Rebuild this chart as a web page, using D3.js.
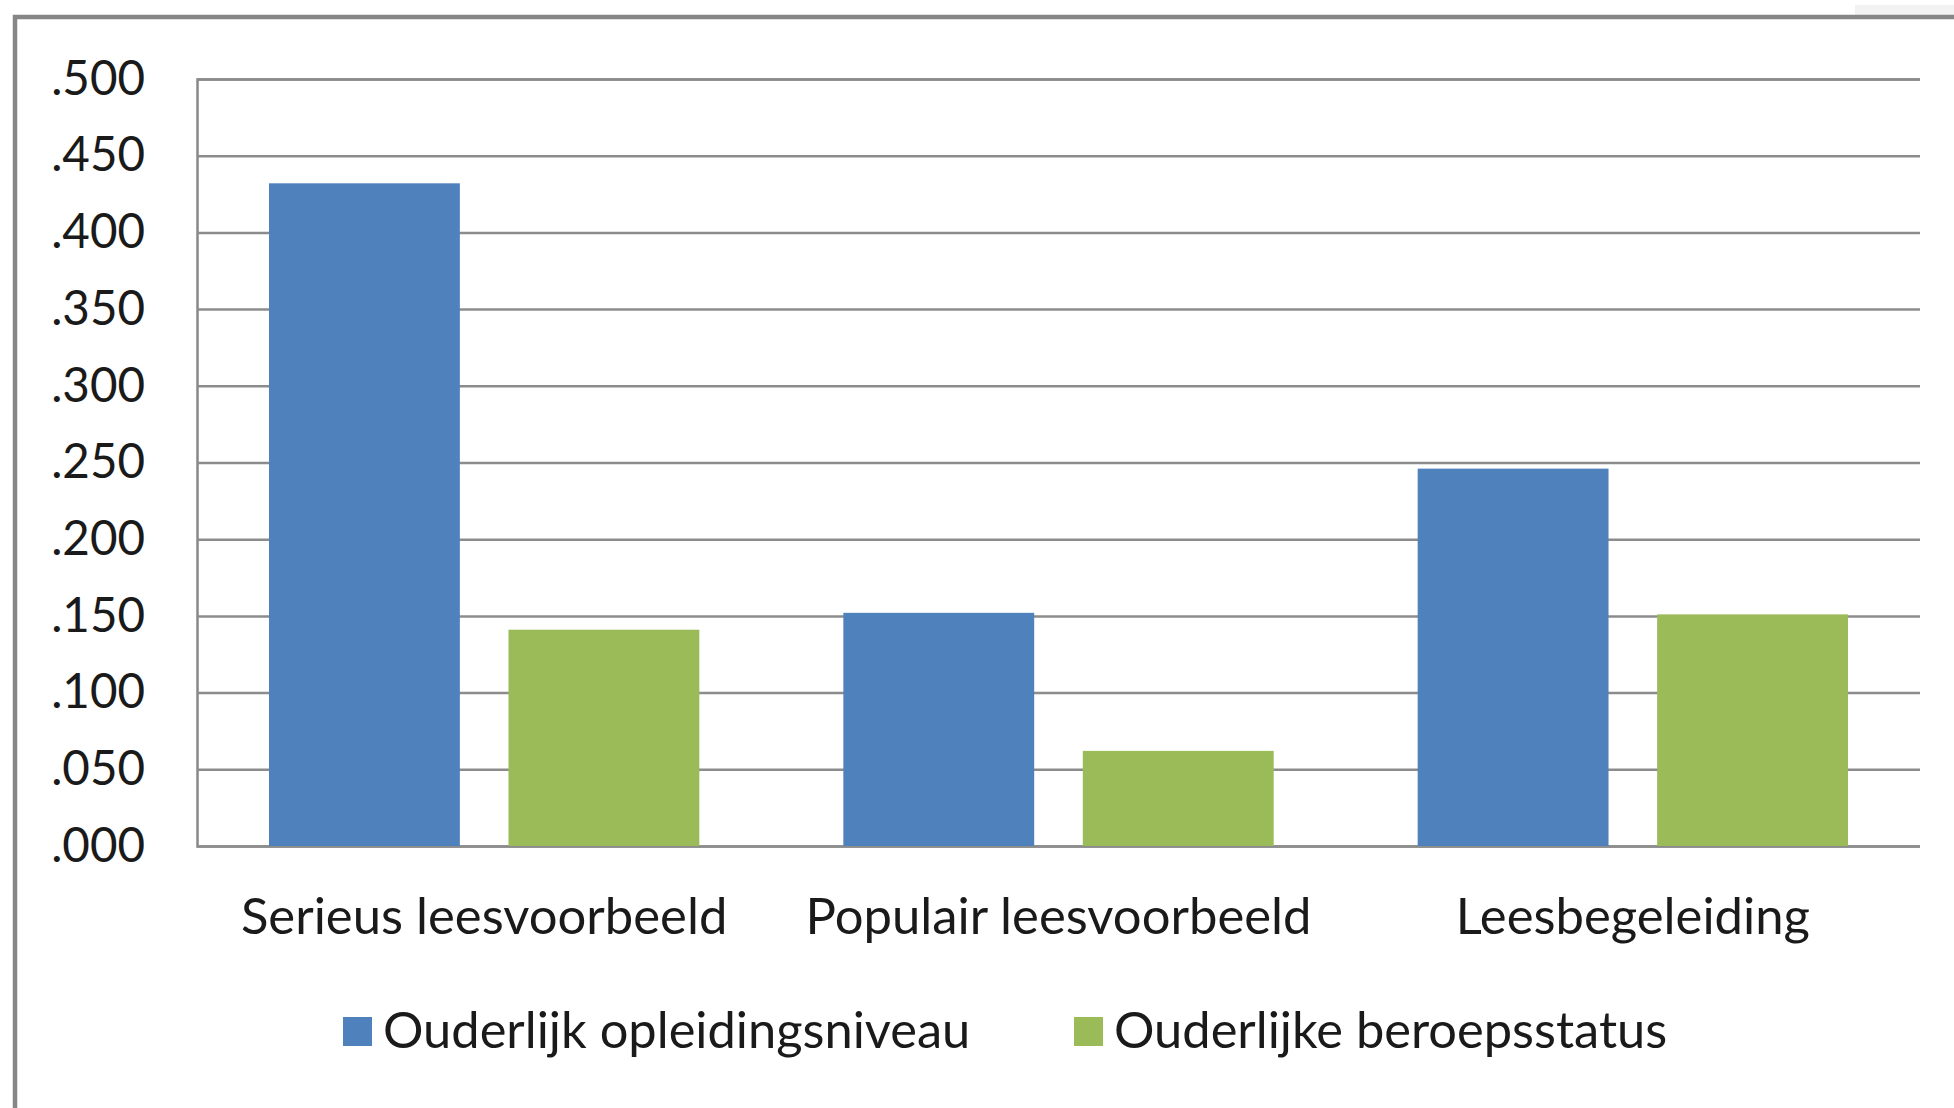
<!DOCTYPE html>
<html lang="nl">
<head>
<meta charset="UTF-8">
<title>Leesvoorbeeld en ouderlijke achtergrond</title>
<script src="https://d3js.org/d3.v7.min.js"></script>
<style>
    body { margin: 0; background: #fff; }
    svg { display: block; }
    text { font-family: Lato, "Open Sans", sans-serif; fill: #1a1a1a; }
</style>
</head>
<body>
<svg width="1954" height="1108"></svg>
<script>
const categories = ["Serieus leesvoorbeeld", "Populair leesvoorbeeld", "Leesbegeleiding"];
const seriesNames = ["Ouderlijk opleidingsniveau", "Ouderlijke beroepsstatus"];
const opleiding = [0.432, 0.152, 0.246];
const beroep = [0.141, 0.062, 0.151];
const yTicks = [0, 0.05, 0.1, 0.15, 0.2, 0.25, 0.3, 0.35, 0.4, 0.45, 0.5];
const colors = ["#4f81bd", "#9bbb59"];

const svg = d3.select("svg");
const plot = { left: 197, right: 1920, top: 79, bottom: 846 };

// frame (cut off on the right and bottom like the screenshot)
svg.append("rect").attr("x", 1855).attr("y", 5).attr("width", 99).attr("height", 10).attr("fill", "#f2f2f2");
svg.append("path")
    .attr("d", `M15,1108 V17 H1954`)
    .attr("fill", "none").attr("stroke", "#868686").attr("stroke-width", 4.5);

const x0 = d3.scaleBand().domain(categories).range([plot.left, plot.right]).padding(0);
const inset = 72;
const x1 = d3.scaleBand().domain(seriesNames)
    .range([inset, x0.bandwidth() - inset]).paddingInner(0.203).paddingOuter(0);
const y = d3.scaleLinear().domain([0, 0.5]).range([plot.bottom, plot.top]);

// gridlines + tick labels
const yAxis = d3.axisLeft(y).tickValues(yTicks)
    .tickSize(-(plot.right - plot.left)).tickPadding(52)
    .tickFormat(d => d3.format(".3f")(d).replace(/^0/, ""));
const ya = svg.append("g").attr("transform", `translate(${plot.left},0)`).call(yAxis);
ya.select(".domain").attr("stroke", "#888").attr("stroke-width", 2.5);
ya.selectAll(".tick line").attr("stroke", "#8c8c8c").attr("stroke-width", 2.5);
ya.selectAll(".tick text").attr("font-size", 47.5).attr("fill", "#1a1a1a")
    .attr("font-family", "Lato, sans-serif");

// bars
const rows = categories.map((c, i) => ({ cat: c, vals: [opleiding[i], beroep[i]] }));
svg.append("g").selectAll("g").data(rows).join("g")
    .attr("transform", d => `translate(${x0(d.cat)},0)`)
    .selectAll("rect")
    .data(d => d.vals.map((v, j) => ({ key: seriesNames[j], value: v, j })))
    .join("rect")
    .attr("x", d => x1(d.key))
    .attr("y", d => y(d.value))
    .attr("width", x1.bandwidth())
    .attr("height", d => y(0) - y(d.value))
    .attr("fill", d => colors[d.j]);

// x axis labels
svg.append("g").selectAll("text").data(categories).join("text")
    .attr("x", d => x0(d) + x0.bandwidth() / 2)
    .attr("y", 934)
    .attr("text-anchor", "middle")
    .attr("font-size", 50.8)
    .text(d => d);

// legend
const legendX = [343, 1074];
const legend = svg.append("g").selectAll("g").data(seriesNames).join("g")
    .attr("transform", (d, i) => `translate(${legendX[i]},1017)`);
legend.append("rect").attr("width", 29).attr("height", 29).attr("fill", (d, i) => colors[i]);
legend.append("text").attr("x", 40).attr("y", 31).attr("font-size", 50.6).text(d => d);
</script>
</body>
</html>
